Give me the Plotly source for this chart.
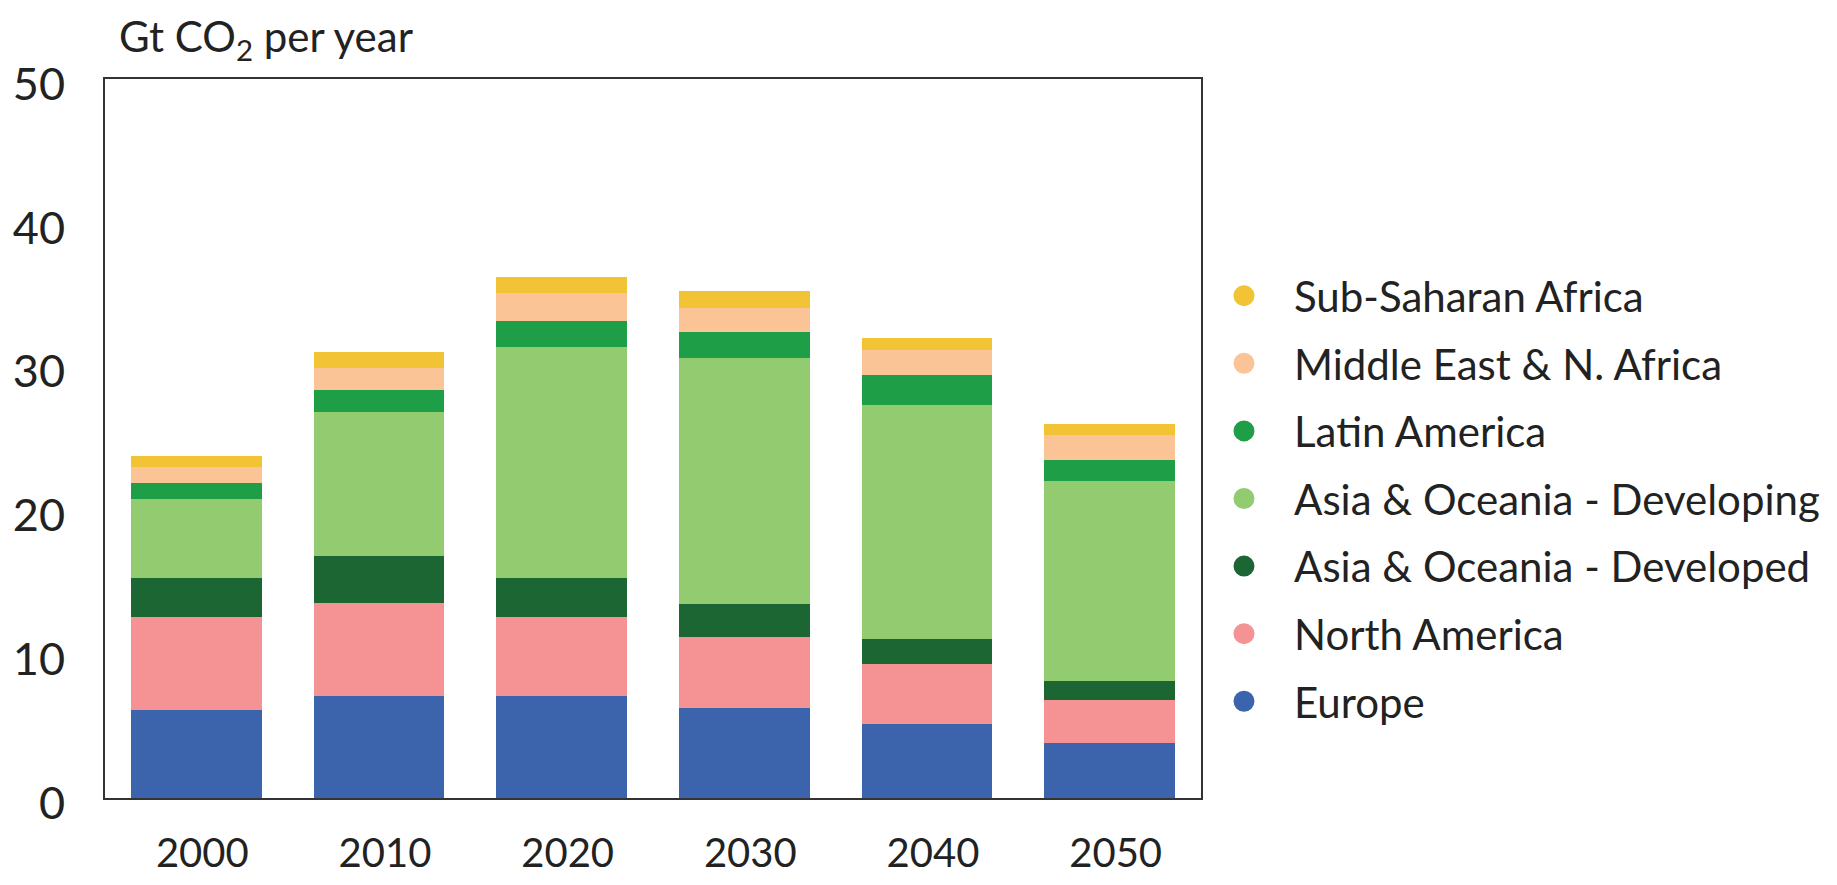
import plotly.graph_objects as go

years = ["2000", "2010", "2020", "2030", "2040", "2050"]
europe = [6.15, 7.08, 7.10, 6.28, 5.18, 3.81]
north_america = [6.44, 6.51, 5.49, 4.95, 4.11, 3.03]
asia_developed = [2.72, 3.24, 2.74, 2.27, 1.76, 1.29]
asia_developing = [5.45, 10.04, 16.00, 17.08, 16.28, 13.93]
latin_america = [1.15, 1.51, 1.85, 1.83, 2.06, 1.47]
middle_east = [1.08, 1.51, 1.91, 1.70, 1.76, 1.68]
sub_saharan = [0.78, 1.16, 1.11, 1.16, 0.85, 0.77]

series = [
    ("Europe", europe, "#3B64AD"),
    ("North America", north_america, "#F49294"),
    ("Asia & Oceania - Developed", asia_developed, "#1B6633"),
    ("Asia & Oceania - Developing", asia_developing, "#92CB70"),
    ("Latin America", latin_america, "#1F9E48"),
    ("Middle East & N. Africa", middle_east, "#FAC497"),
    ("Sub-Saharan Africa", sub_saharan, "#F2C335"),
]

FONT = "Lato"
TXT = "#222222"
fig = go.Figure()
for name, vals, col in series:
    fig.add_trace(go.Bar(x=years, y=vals, name=name, marker=dict(color=col, line=dict(width=0)),
                         showlegend=False))
# legend entries with round symbols, top entry = top of stack
for i, (name, vals, col) in enumerate(reversed(series)):
    fig.add_trace(go.Scatter(x=[None], y=[None], mode="markers", name=name,
                             marker=dict(color=col, size=16, symbol="circle",
                                         line=dict(color=col, width=5)),
                             legendgroup=f"g{i}", showlegend=True))

# page has an 8px body margin; figure sized so the page does not scroll
OFF = 8
W, H = 1837 - 2 * OFF, 885 - 2 * OFF
# plot box in page pixels
L, R, T, B = 105, 1201, 79, 797.7
fig.update_layout(
    width=W, height=H,
    barmode="stack", bargap=0.283,
    paper_bgcolor="white", plot_bgcolor="white",
    margin=dict(l=L - OFF, r=W + OFF - R, t=T - OFF, b=H + OFF - B, pad=0, autoexpand=False),
    font=dict(family=FONT, color=TXT),
    legend=dict(traceorder="grouped", x=0.9936, xanchor="left", xref="paper",
                y=0.416, yanchor="middle", font=dict(size=42, family=FONT, color=TXT),
                itemwidth=90, tracegroupgap=10, bgcolor="rgba(0,0,0,0)"),
    annotations=[dict(text="Gt CO<sub>2</sub> per year", xref="paper", yref="paper",
                      x=(117 - L) / (R - L), xanchor="left",
                      y=(B - (OFF + 1)) / (B - T), yanchor="top",
                      showarrow=False, font=dict(size=42, family=FONT, color=TXT))],
)

fig.update_xaxes(showgrid=False, showline=True, linecolor="#333333", linewidth=2, mirror=True,
                 ticks="", tickfont=dict(size=40, family=FONT, color=TXT),
                 ticklabelstandoff=19, ticklabelshift=6, automargin=False)
fig.update_yaxes(range=[0, 50], tickvals=[0, 10, 20, 30, 40, 50], showgrid=False, zeroline=False,
                 showline=True, linecolor="#333333", linewidth=2, mirror=True,
                 ticks="", tickfont=dict(size=45, family=FONT, color=TXT),
                 ticklabelstandoff=29, ticklabelshift=5, automargin=False)

fig.write_html("out.html")
